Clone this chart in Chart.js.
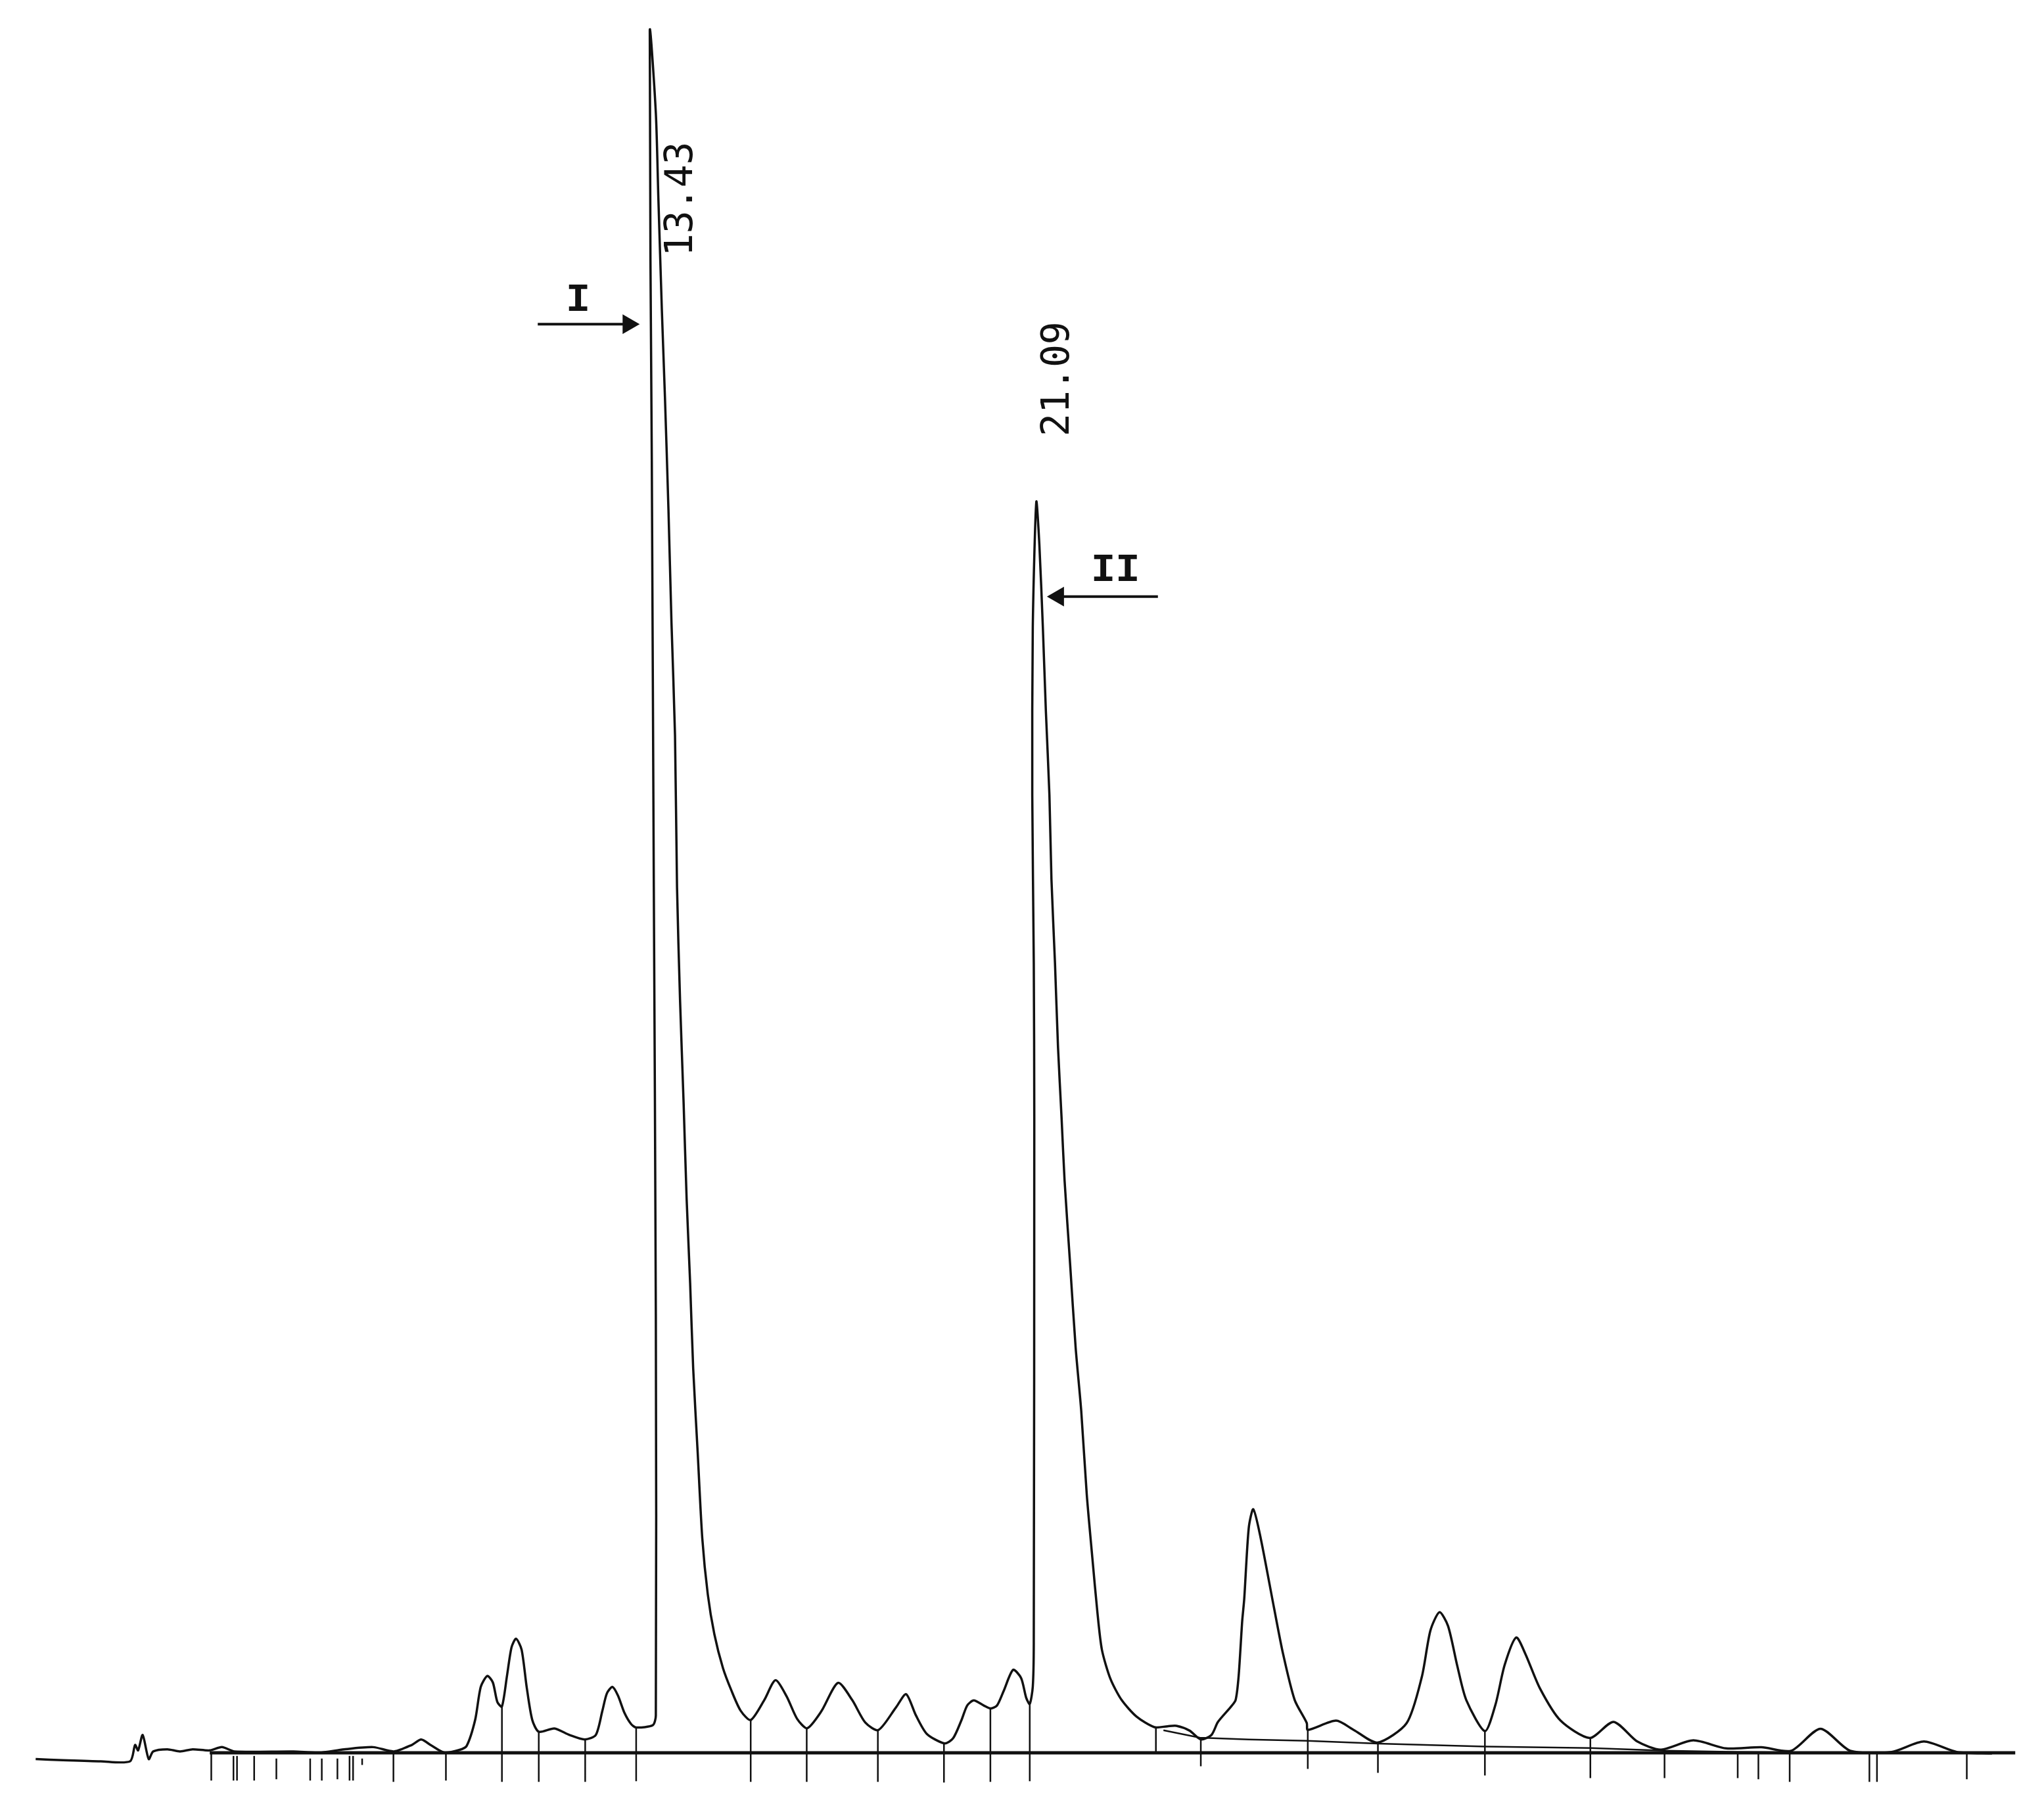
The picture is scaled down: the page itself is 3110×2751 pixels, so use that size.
<!DOCTYPE html>
<html>
<head>
<meta charset="utf-8">
<title>Chromatogram</title>
<script src="https://cdn.jsdelivr.net/npm/chart.js@4.4.1/dist/chart.umd.min.js"></script>
<style>
    html, body { margin: 0; padding: 0; background: #fff; }
    canvas { display: block; }
</style>
</head>
<body>
<canvas id="chrom" width="3110" height="2751"></canvas>
<script>
// Detector trace: retention time (min) and signal (arbitrary units)
const traceTime = [1.26, 1.80, 2.55, 3.13, 3.23, 3.29, 3.38, 3.50, 3.59, 3.87,
    4.12, 4.37, 4.71, 4.95, 5.20, 6.37, 6.87, 7.37, 7.95, 8.36,
    8.72, 8.90, 9.10, 9.36, 9.65, 9.80, 9.97, 10.08, 10.21, 10.32,
    10.41, 10.50, 10.60, 10.69, 10.78, 10.89, 10.99, 11.10, 11.23, 11.54,
    11.84, 12.14, 12.36, 12.49, 12.58, 12.69, 12.80, 12.93, 13.06, 13.16,
    13.49, 13.55, 13.55, 13.51, 13.47, 13.43, 13.55, 13.60, 13.67, 13.73,
    13.80, 13.86, 13.93, 13.97, 14.03, 14.10, 14.16, 14.23, 14.29, 14.38,
    14.47, 14.58, 14.71, 14.88, 15.05, 15.23, 15.43, 15.70, 15.92, 16.14,
    16.35, 16.55, 16.83, 17.16, 17.44, 17.70, 17.96, 18.31, 18.51, 18.70,
    18.92, 19.27, 19.44, 19.61, 19.72, 19.85, 20.05, 20.18, 20.31, 20.44,
    20.63, 20.79, 20.89, 20.96, 21.02, 21.04, 21.05, 21.04, 21.01, 21.02,
    21.09, 21.15, 21.22, 21.28, 21.35, 21.39, 21.46, 21.52, 21.59, 21.65,
    21.76, 21.87, 21.98, 22.09, 22.20, 22.30, 22.39, 22.56, 22.78, 23.08,
    23.43, 23.69, 23.87, 24.13, 24.35, 24.56, 24.69, 24.95, 25.04, 25.10,
    25.17, 25.21, 25.30, 25.39, 25.53, 25.80, 25.98, 26.21, 26.45, 26.47,
    27.03, 27.38, 27.85, 28.43, 28.73, 28.90, 29.08, 29.25, 29.43, 29.61,
    29.98, 30.19, 30.37, 30.60, 30.78, 31.07, 31.48, 32.06, 32.53, 33.00,
    33.47, 34.11, 34.76, 35.46, 36.05, 36.63, 37.22, 38.04, 38.68, 39.33,
    40.03];
const traceSignal = [-4.8, -5.6, -6.5, -6.5, 6.1, 1.9, 13.7, -4.8, 1.1, 2.7,
    1.1, 2.7, 1.9, 4.5, 1.1, 1.1, 0.1, 2.7, 4.4, 1.1,
    6.2, 10.2, 5.7, 0.2, 2.2, 5.3, 25.4, 50.6, 59.0, 54.0,
    38.9, 35.5, 59.0, 80.9, 87.6, 79.2, 50.6, 25.4, 16.2, 18.7,
    13.7, 10.3, 13.7, 32.2, 45.6, 50.6, 43.9, 30.5, 22.1, 19.5,
    21.2, 28.7, 336.3, 664.0, 991.7, 1321.0, 1258.0, 1192.9, 1106.2, 1040.7,
    954.0, 867.2, 780.7, 664.0, 577.3, 499.1, 425.3, 360.1, 295.1, 229.9,
    164.9, 121.5, 91.0, 65.1, 47.6, 32.4, 25.2, 40.6, 55.7, 43.5,
    26.1, 18.9, 31.9, 53.7, 40.6, 23.3, 17.5, 34.9, 45.0, 29.1,
    14.6, 7.3, 11.1, 25.4, 36.3, 40.2, 36.3, 34.1, 36.3, 47.2,
    63.7, 57.3, 42.2, 37.5, 50.6, 84.2, 487.7, 606.1, 734.7, 863.2,
    959.7, 927.4, 863.2, 798.8, 734.7, 670.2, 606.1, 541.5, 487.7, 439.3,
    375.0, 310.7, 262.5, 198.1, 149.9, 108.1, 79.1, 56.7, 40.6, 27.7,
    19.7, 20.4, 20.7, 17.0, 10.3, 13.7, 23.7, 35.5, 40.6, 59.0,
    101.0, 117.8, 172.5, 186.9, 166.0, 111.4, 76.0, 40.6, 22.9, 17.6,
    24.7, 17.6, 7.9, 22.9, 58.3, 93.8, 107.9, 97.3, 67.2, 40.6,
    16.7, 37.1, 67.2, 88.5, 76.1, 49.5, 24.7, 11.4, 23.8, 8.7,
    2.5, 9.6, 3.4, 4.3, 1.6, 18.5, 1.6, 0.7, 8.7, 0.7,
    -0.5];

// Integrator event marks: time, top and bottom of each drop line
const markTime = [4.74, 5.18, 5.25, 5.59, 6.03, 6.70, 6.93, 7.24, 7.48, 7.55,
    7.73, 8.35, 9.39, 10.50, 11.23, 12.15, 13.16, 15.43, 16.54, 17.95,
    19.26, 20.18, 20.96, 23.46, 24.35, 26.47, 27.86, 29.98, 32.07, 33.54,
    34.99, 35.40, 36.02, 37.60, 37.75, 39.53];
const markTop = [0, -2.3, -2.3, -2.3, -4.3, -4.3, -4.3, -4.3, -2.3, -2.3,
    -4.3, 0, 0, 35.5, 16.2, 10.3, 19.7, 25.2, 18.9, 17.5,
    7.3, 34.1, 37.5, 18.7, 10.3, 17.6, 7.9, 16.7, 11.4, 2.7,
    0.7, 0, 0.7, 0.7, 0.7, 0];
const markBottom = [-21.3, -21.3, -21.3, -21.3, -20.3, -21.3, -21.3, -20.3, -21.3, -21.3,
    -9.3, -22.3, -21.3, -22.3, -22.3, -22.3, -21.8, -22.3, -22.3, -22.3,
    -22.8, -22.3, -21.8, 0, -10.3, -12.3, -15.3, -17.3, -19.3, -19.3,
    -19.3, -20.3, -22.3, -22.3, -22.3, -20.3];

// Drawn integration baseline under the late peaks
const baseTime = [23.61, 24.33, 25.30, 26.46, 27.86, 29.98, 32.07, 33.54, 34.99, 36.72, 39.30];
const baseSignal = [17.3, 11.7, 10.3, 9.2, 7.1, 4.9, 3.7, 1.7, 0.7, 0.2, 0];

// Zero line of the recorder
const zeroTime = [4.71, 40.49];

// Labelled peaks
const peakLabels = ['13.43', '21.09'];
const peakNames = ['I', 'II'];

const ink = '#111';

// where the annotations sit (time, signal)
const labelPos = [{ t: 14.07, s: 1192 }, { t: 21.54, s: 1054 }];
const arrows = [
    { from: 11.21, to: 13.23, s: 1096, name: { t: 12.01, s: 1114 } },
    { from: 23.50, to: 21.30, s: 887, name: { t: 22.66, s: 907 } }
];

const tracePoints = traceTime.map((t, i) => ({ x: t, y: traceSignal[i] }));
const markPoints = markTime.flatMap((t, i) => [
    { x: t, y: markTop[i] }, { x: t, y: markBottom[i] }, { x: t, y: null }
]);
const basePoints = baseTime.map((t, i) => ({ x: t, y: baseSignal[i] }));
const zeroPoints = zeroTime.map(t => ({ x: t, y: 0 }));

const notesPlugin = {
    id: 'notes',
    afterDatasetsDraw(chart) {
        const { ctx, scales: { x, y } } = chart;
        ctx.save();
        ctx.fillStyle = ink;
        ctx.strokeStyle = ink;
        ctx.textAlign = 'center';
        ctx.textBaseline = 'middle';

        // retention times printed sideways next to the peaks
        peakLabels.forEach((txt, i) => {
            const p = labelPos[i];
            ctx.save();
            ctx.translate(x.getPixelForValue(p.t), y.getPixelForValue(p.s));
            ctx.rotate(-Math.PI / 2);
            ctx.font = '58px "DejaVu Sans Mono"';
            ctx.fillText(txt, 0, 0);
            ctx.restore();
        });

        // hand-drawn arrows with roman numerals
        arrows.forEach((a, i) => {
            const x0 = x.getPixelForValue(a.from);
            const x1 = x.getPixelForValue(a.to);
            const yy = y.getPixelForValue(a.s);
            const dir = Math.sign(x1 - x0);
            ctx.lineWidth = 4;
            ctx.beginPath();
            ctx.moveTo(x0, yy);
            ctx.lineTo(x1 - dir * 20, yy);
            ctx.stroke();
            ctx.beginPath();
            ctx.moveTo(x1, yy);
            ctx.lineTo(x1 - dir * 26, yy - 15);
            ctx.lineTo(x1 - dir * 26, yy + 15);
            ctx.closePath();
            ctx.fill();

            ctx.font = 'bold 62px "Liberation Mono"';
            ctx.fillText(peakNames[i], x.getPixelForValue(a.name.t), y.getPixelForValue(a.name.s));
        });
        ctx.restore();
    }
};

new Chart(document.getElementById('chrom'), {
    type: 'line',
    data: {
        datasets: [
            { data: zeroPoints, borderColor: ink, borderWidth: 5, tension: 0 },
            { data: basePoints, borderColor: ink, borderWidth: 2.5, tension: 0 },
            { data: markPoints, borderColor: ink, borderWidth: 2.5, tension: 0, spanGaps: false },
            { data: tracePoints, borderColor: ink, borderWidth: 3.5, tension: 0.25, borderJoinStyle: 'round' }
        ]
    },
    options: {
        responsive: false,
        animation: false,
        devicePixelRatio: 1,
        layout: { padding: 0 },
        elements: { point: { radius: 0 } },
        plugins: { legend: { display: false }, tooltip: { enabled: false } },
        scales: {
            x: { type: 'linear', min: 0.553, max: 41.06, display: false },
            y: { type: 'linear', min: -42.3, max: 1344.7, display: false }
        }
    },
    plugins: [notesPlugin]
});
</script>
</body>
</html>
